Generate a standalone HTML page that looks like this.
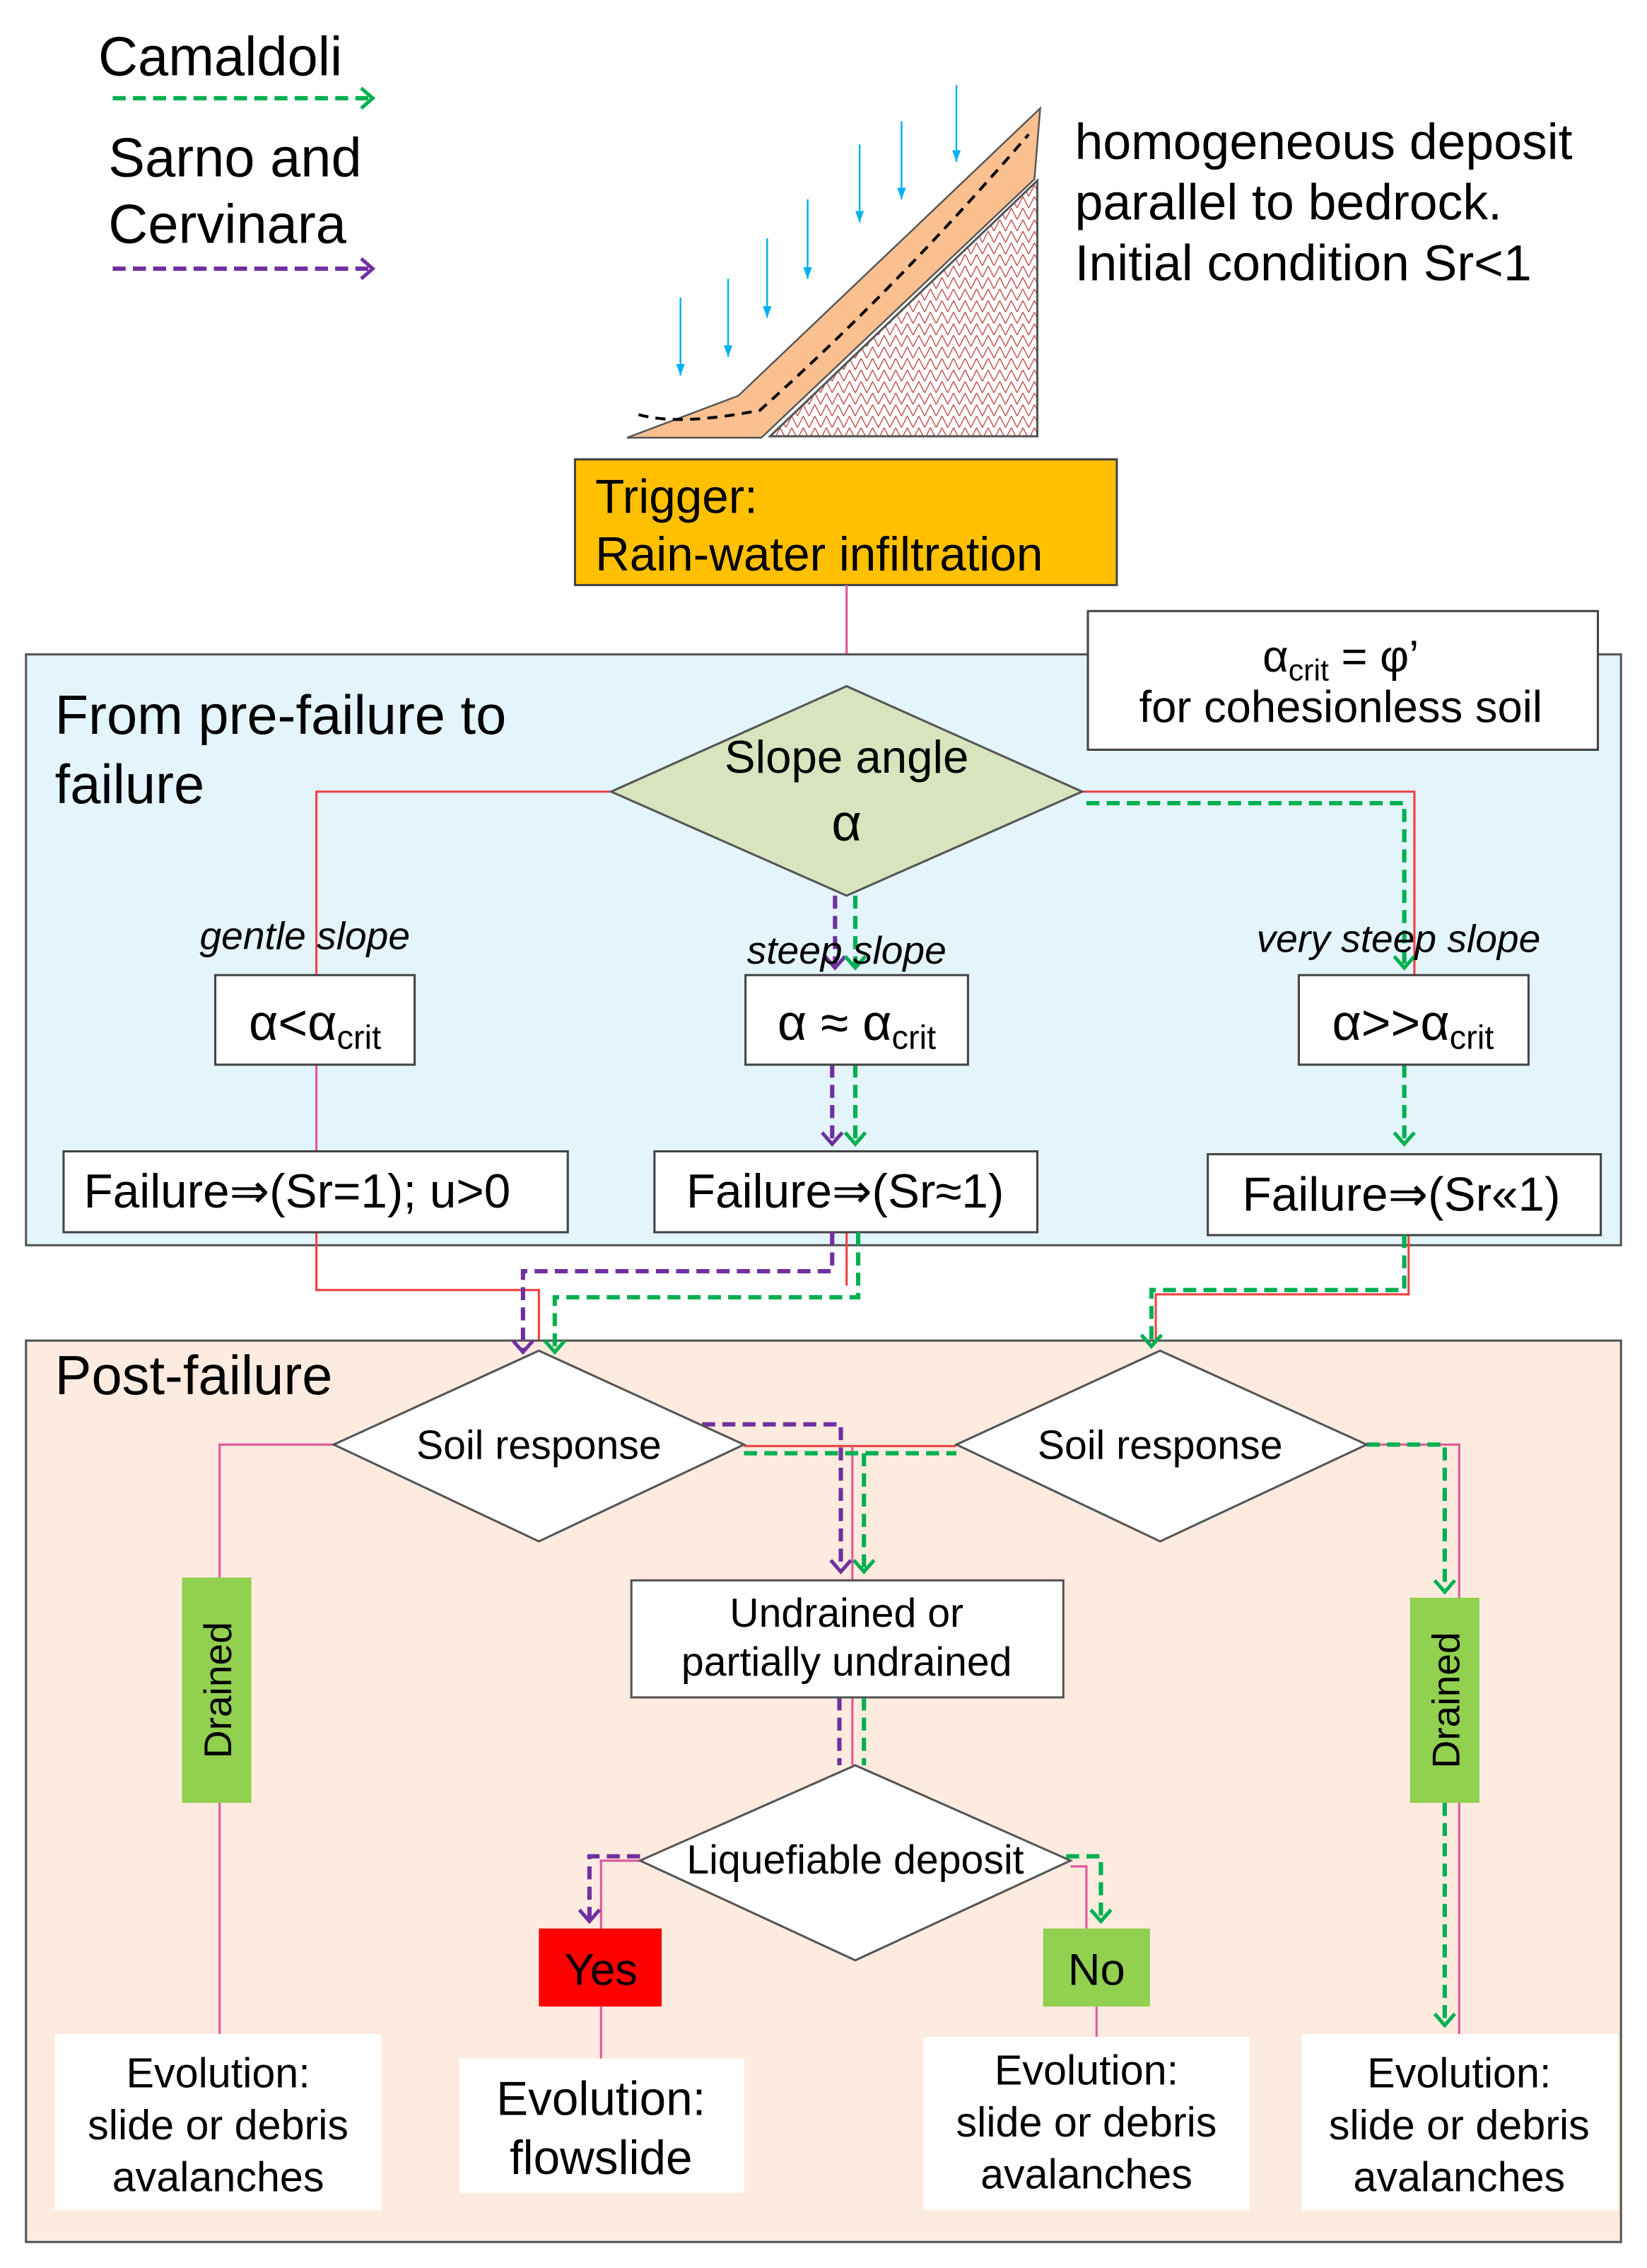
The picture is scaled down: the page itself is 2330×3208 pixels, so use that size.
<!DOCTYPE html>
<html><head><meta charset="utf-8"><style>html,body{margin:0;padding:0;background:#fff}svg{display:block}text{font-family:"Liberation Sans",sans-serif;fill:#000}</style></head><body>
<svg width="2330" height="3208" viewBox="0 0 1140 1570" preserveAspectRatio="none" xmlns="http://www.w3.org/2000/svg">
<defs>
<pattern id="h" width="8" height="8" patternUnits="userSpaceOnUse"><path d="M0 8 L4 0 L8 8" fill="none" stroke="#c0504d" stroke-width="0.7"/></pattern>
<marker id="ag" markerWidth="16" markerHeight="16" refX="9" refY="8" orient="auto" markerUnits="userSpaceOnUse"><path d="M1 1 L9 8 L1 15" fill="none" stroke="#00b050" stroke-width="2.5"/></marker>
<marker id="ap" markerWidth="16" markerHeight="16" refX="9" refY="8" orient="auto" markerUnits="userSpaceOnUse"><path d="M1 1 L9 8 L1 15" fill="none" stroke="#7030a0" stroke-width="2.5"/></marker>
<marker id="ab" markerWidth="10" markerHeight="10" refX="8" refY="4" orient="auto" markerUnits="userSpaceOnUse"><path d="M0 1 L8 4 L0 7 Z" fill="#00b0f0"/></marker>
</defs>
<!-- legend -->
<text x="68" y="52" font-size="38">Camaldoli</text>
<line x1="78" y1="68" x2="258" y2="68" stroke="#00b050" stroke-width="3" stroke-dasharray="9,5" marker-end="url(#ag)"/>
<text x="75" y="122" font-size="38">Sarno and</text>
<text x="75" y="168" font-size="38">Cervinara</text>
<line x1="78" y1="186" x2="258" y2="186" stroke="#7030a0" stroke-width="3" stroke-dasharray="9,5" marker-end="url(#ap)"/>
<!-- slope -->
<polygon points="533,302 718,302 718,125" fill="url(#h)" stroke="#555" stroke-width="1.5"/>
<polygon points="434,303 511,274 720,75 716,124 527,303" fill="#FAC090" stroke="#555" stroke-width="1.2"/>
<path d="M442,287 Q470,295 526,284 Q620,200 712,93" fill="none" stroke="#000" stroke-width="2" stroke-dasharray="7,5"/>
<g stroke="#00b0f0" stroke-width="1.2" marker-end="url(#ab)">
<line x1="471" y1="206" x2="471" y2="260"/><line x1="504" y1="193" x2="504" y2="247"/><line x1="531" y1="165" x2="531" y2="220"/><line x1="559" y1="138" x2="559" y2="193"/><line x1="595" y1="100" x2="595" y2="154"/><line x1="624" y1="84" x2="624" y2="138"/><line x1="662" y1="59" x2="662" y2="112"/>
</g>
<text x="744" y="110" font-size="35">homogeneous deposit</text>
<text x="744" y="152" font-size="35">parallel to bedrock.</text>
<text x="744" y="194" font-size="35">Initial condition Sr&lt;1</text>
<!-- trigger -->
<rect x="398" y="318" width="375" height="87" fill="#FFC000" stroke="#444" stroke-width="1.5"/>
<text x="412" y="355" font-size="33">Trigger:</text>
<text x="412" y="395" font-size="33">Rain-water infiltration</text>
<line x1="586" y1="405" x2="586" y2="476" stroke="#e0569a" stroke-width="1.5"/>
<!-- blue panel -->
<rect x="18" y="453" width="1104" height="409" fill="#E3F4FB" stroke="#555" stroke-width="1.5"/>
<rect x="753" y="423" width="353" height="96" fill="#fff" stroke="#444" stroke-width="1.5"/>
<text x="928" y="465" font-size="31" text-anchor="middle">α<tspan font-size="21" dy="6">crit</tspan><tspan dy="-6"> = φ’</tspan></text>
<text x="928" y="500" font-size="31" text-anchor="middle">for cohesionless soil</text>
<text x="38" y="508" font-size="38">From pre-failure  to</text>
<text x="38" y="556" font-size="38">failure</text>
<!-- lines upper -->
<g fill="none" stroke-width="1.5" stroke="#f04040">
<polyline points="423,548 219,548 219,675"/>
<polyline points="749,548 979,548 979,675"/>
<line x1="219" y1="737" x2="219" y2="797" stroke="#e0569a"/>
<polyline points="219,853 219,893 373,893 373,935"/>
<polyline points="586,853 586,890"/>
<polyline points="975,855 975,896 800,896 800,935"/>
</g>
<g fill="none" stroke-width="3" stroke-dasharray="9,5">
<polyline points="752,556 972,556 972,670" stroke="#00b050" marker-end="url(#ag)"/>
<line x1="972" y1="737" x2="972" y2="792" stroke="#00b050" marker-end="url(#ag)"/>
<line x1="578" y1="620" x2="578" y2="670" stroke="#7030a0" marker-end="url(#ap)"/>
<line x1="592" y1="620" x2="592" y2="670" stroke="#00b050" marker-end="url(#ag)"/>
<line x1="576" y1="737" x2="576" y2="792" stroke="#7030a0" marker-end="url(#ap)"/>
<line x1="592" y1="737" x2="592" y2="792" stroke="#00b050" marker-end="url(#ag)"/>
</g>
<polygon points="423,548 586,475 749,548 586,620" fill="#D7E4BD" stroke="#555" stroke-width="1.5"/>
<text x="586" y="535" font-size="32" text-anchor="middle">Slope angle</text>
<text x="586" y="582" font-size="36" text-anchor="middle" font-family="Liberation Serif">α</text>
<text x="211" y="657" font-size="27" font-style="italic" text-anchor="middle">gentle slope</text>
<text x="586" y="667" font-size="27" font-style="italic" text-anchor="middle">steep slope</text>
<text x="968" y="659" font-size="27" font-style="italic" text-anchor="middle">very steep slope</text>
<g fill="#fff" stroke="#444" stroke-width="1.5">
<rect x="149" y="675" width="138" height="62"/><rect x="516" y="675" width="154" height="62"/><rect x="899" y="675" width="159" height="62"/>
<rect x="44" y="797" width="349" height="56"/><rect x="453" y="797" width="265" height="56"/><rect x="836" y="799" width="272" height="56"/>
</g>
<text x="218" y="720" font-size="35" text-anchor="middle" font-family="Liberation Serif">α&lt;α<tspan font-size="23" dy="6" font-family="Liberation Sans">crit</tspan></text>
<text x="593" y="720" font-size="35" text-anchor="middle" font-family="Liberation Serif">α ≈ α<tspan font-size="23" dy="6" font-family="Liberation Sans">crit</tspan></text>
<text x="978" y="720" font-size="35" text-anchor="middle" font-family="Liberation Serif">α&gt;&gt;α<tspan font-size="23" dy="6" font-family="Liberation Sans">crit</tspan></text>
<text x="58" y="836" font-size="33">Failure⇒(Sr=1); u&gt;0</text>
<text x="585" y="836" font-size="33" text-anchor="middle">Failure⇒(Sr≈1)</text>
<text x="970" y="838" font-size="33" text-anchor="middle">Failure⇒(Sr«1)</text>
<!-- post panel -->
<rect x="18" y="928" width="1104" height="624" fill="#FDEBDF" stroke="#555" stroke-width="1.5"/>
<g fill="none" stroke-width="3" stroke-dasharray="9,5">
<polyline points="576,853 576,880 362,880 362,936" stroke="#7030a0" marker-end="url(#ap)"/>
<polyline points="594,853 594,898 384,898 384,936" stroke="#00b050" marker-end="url(#ag)"/>
<polyline points="972,855 972,893 797,893 797,932" stroke="#00b050" marker-end="url(#ag)"/>
</g>
<text x="38" y="965" font-size="38">Post-failure</text>
<g fill="none" stroke-width="1.5" stroke="#e0569a">
<polyline points="231,1000 152,1000 152,1092"/><line x1="152" y1="1248" x2="152" y2="1408"/>
<line x1="515" y1="1001" x2="662" y2="1001" stroke="#f04040"/>
<line x1="590" y1="1001" x2="590" y2="1094"/>
<polyline points="946,1000 1010,1000 1010,1408"/>
<line x1="590" y1="1175" x2="590" y2="1222"/>
<polyline points="443,1288 416,1288 416,1335"/><polyline points="741,1292 752,1292 752,1335"/>
<line x1="416" y1="1389" x2="416" y2="1425"/><line x1="759" y1="1389" x2="759" y2="1410"/>
</g>
<g fill="none" stroke-width="3" stroke-dasharray="9,5">
<polyline points="486,986 582,986 582,1088" stroke="#7030a0" marker-end="url(#ap)"/>
<polyline points="515,1006 662,1006" stroke="#00b050"/>
<polyline points="598,1006 598,1088" stroke="#00b050" marker-end="url(#ag)"/>
<polyline points="946,1000 1000,1000 1000,1102" stroke="#00b050" marker-end="url(#ag)"/>
<line x1="1000" y1="1248" x2="1000" y2="1402" stroke="#00b050" marker-end="url(#ag)"/>
<line x1="581" y1="1175" x2="581" y2="1222" stroke="#7030a0"/>
<line x1="598" y1="1175" x2="598" y2="1222" stroke="#00b050"/>
<polyline points="443,1285 408,1285 408,1330" stroke="#7030a0" marker-end="url(#ap)"/>
<polyline points="738,1285 762,1285 762,1330" stroke="#00b050" marker-end="url(#ag)"/>
</g>
<g fill="#fff" stroke="#555" stroke-width="1.5">
<polygon points="231,1000 373,935 515,1000 373,1067"/>
<polygon points="662,1000 803,935 946,1000 803,1067"/>
<rect x="437" y="1094" width="299" height="81"/>
<polygon points="443,1288 592,1222 741,1288 592,1357"/>
</g>
<text x="373" y="1010" font-size="28" text-anchor="middle">Soil response</text>
<text x="803" y="1010" font-size="28" text-anchor="middle">Soil response</text>
<text x="586" y="1126" font-size="28" text-anchor="middle">Undrained  or</text>
<text x="586" y="1160" font-size="28" text-anchor="middle">partially undrained</text>
<text x="592" y="1297" font-size="28" text-anchor="middle">Liquefiable  deposit</text>
<rect x="126" y="1092" width="48" height="156" fill="#92D050"/>
<rect x="976" y="1106" width="48" height="142" fill="#92D050"/>
<text transform="translate(160,1170) rotate(-90)" font-size="27" text-anchor="middle">Drained</text>
<text transform="translate(1010,1177) rotate(-90)" font-size="27" text-anchor="middle">Drained</text>
<rect x="373" y="1335" width="85" height="54" fill="#FF0000"/>
<rect x="722" y="1335" width="74" height="54" fill="#92D050"/>
<text x="416" y="1374" font-size="31" text-anchor="middle">Yes</text>
<text x="759" y="1374" font-size="31" text-anchor="middle">No</text>
<g fill="#fff">
<rect x="38" y="1408" width="226" height="122"/><rect x="318" y="1425" width="197" height="93"/>
<rect x="639" y="1410" width="226" height="120"/><rect x="901" y="1408" width="219" height="122"/>
</g>
<g font-size="29" text-anchor="middle">
<text x="151" y="1445">Evolution:</text><text x="151" y="1481">slide or debris</text><text x="151" y="1517">avalanches</text>
<text x="752" y="1443">Evolution:</text><text x="752" y="1479">slide or debris</text><text x="752" y="1515">avalanches</text>
<text x="1010" y="1445">Evolution:</text><text x="1010" y="1481">slide or debris</text><text x="1010" y="1517">avalanches</text>
</g>
<text x="416" y="1464" font-size="33" text-anchor="middle">Evolution:</text>
<text x="416" y="1505" font-size="33" text-anchor="middle">flowslide</text>
</svg>
</body></html>
